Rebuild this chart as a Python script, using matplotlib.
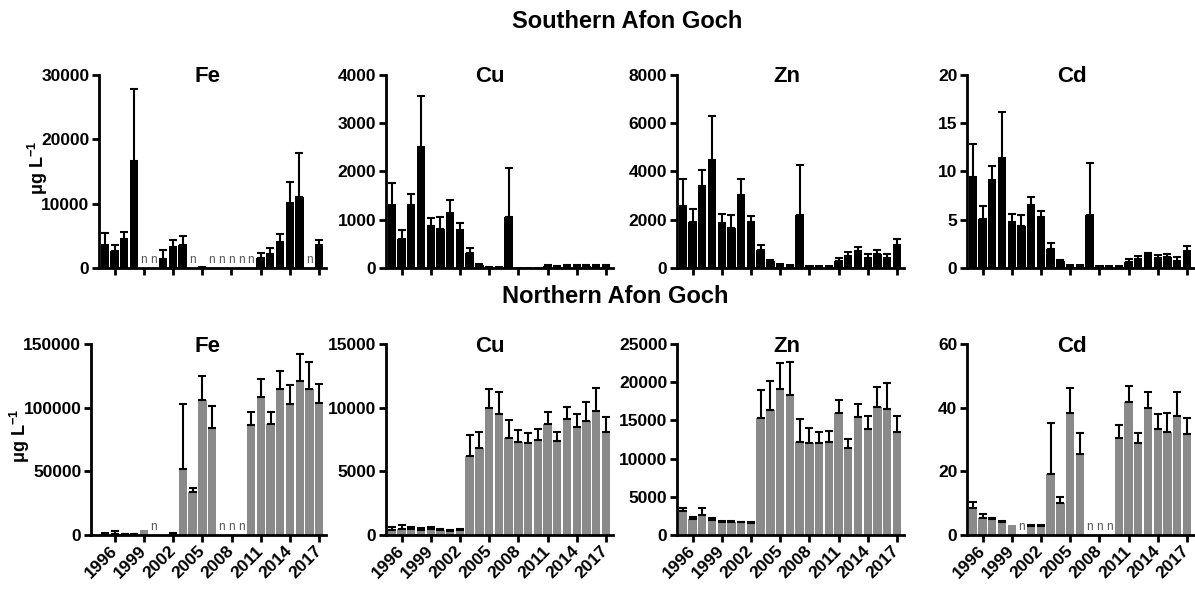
import matplotlib
matplotlib.use("Agg")
import matplotlib.pyplot as plt
import numpy as np

nan = np.nan

years = list(range(1995, 2018))
tick_years = [1996, 1999, 2002, 2005, 2008, 2011, 2014, 2017]
metals = ["Fe", "Cu", "Zn", "Cd"]

# Southern Afon Goch: mean and upper SD
fe_s = [3600, 2700, 4500, 16700, nan, nan, 1450, 3200, 3500, nan, 250, nan, nan,
        nan, nan, nan, 1500, 2200, 4000, 10100, 11100, nan, 3500]
fe_s_sd = [1800, 900, 1100, 11200, nan, nan, 1300, 1150, 1400, nan, 0, nan, nan,
           nan, nan, nan, 800, 900, 1300, 3300, 6700, nan, 900]
cu_s = [1300, 600, 1300, 2510, 870, 810, 1145, 790, 310, 60, 40, 40, 1050,
        20, 20, 20, 40, 30, 40, 50, 50, 40, 40]
cu_s_sd = [470, 190, 230, 1060, 160, 240, 255, 140, 110, 20, 0, 0, 1030,
           0, 0, 0, 15, 10, 15, 20, 20, 15, 15]
zn_s = [2580, 1900, 3390, 4470, 1880, 1670, 3010, 1900, 760, 290, 200, 180, 2180,
        140, 110, 120, 290, 510, 700, 430, 580, 400, 970]
zn_s_sd = [1100, 560, 680, 1810, 340, 510, 670, 240, 210, 55, 0, 0, 2080,
           0, 0, 0, 140, 140, 160, 140, 160, 170, 230]
cd_s = [9.4, 5.1, 9.1, 11.4, 4.8, 4.4, 6.5, 5.3, 2.0, 0.7, 0.45, 0.4, 5.5,
        0.3, 0.3, 0.3, 0.6, 0.9, 1.4, 1.0, 1.1, 0.75, 1.8]
cd_s_sd = [3.5, 1.3, 1.5, 4.8, 0.8, 1.1, 0.9, 0.6, 0.6, 0.1, 0, 0, 5.4,
           0, 0, 0, 0.3, 0.3, 0.2, 0.3, 0.3, 0.35, 0.5]

# Northern Afon Goch
fe_n = [800, 1000, 500, 700, 3800, nan, 200, 800, 51800, 33500, 106000, 84000, nan,
        nan, nan, 86600, 108000, 87000, 115000, 103000, 121000, 115000, 104000]
fe_n_sd = [500, 1800, 300, 300, 0, nan, 0, 800, 51000, 3600, 19000, 17000, nan,
           nan, nan, 10000, 14500, 9500, 14000, 15000, 21000, 21000, 14500]
cu_n = [400, 470, 470, 420, 470, 390, 340, 390, 6180, 6800, 9970, 9480, 7590,
        7300, 7230, 7490, 8740, 7360, 9110, 8510, 8950, 9750, 8100]
cu_n_sd = [250, 310, 180, 100, 180, 50, 50, 50, 1670, 1310, 1470, 1750, 1440,
           950, 810, 810, 890, 700, 940, 970, 1500, 1800, 1150]
zn_n = [3190, 2090, 2620, 1960, 1750, 1700, 1660, 1570, 15360, 16360, 19110, 18280, 12170,
        12090, 12000, 12220, 16010, 11340, 15400, 13920, 16710, 16490, 13480]
zn_n_sd = [390, 310, 870, 270, 80, 130, 90, 90, 3580, 3840, 3360, 4360, 2970,
           1870, 1530, 1440, 1660, 1180, 1790, 1700, 2620, 3410, 2100]
cd_n = [8.6, 5.2, 5.0, 4.0, 3.0, nan, 2.9, 2.9, 19.1, 10.2, 38.4, 25.3, nan,
        nan, nan, 30.6, 41.9, 28.8, 39.8, 33.2, 32.3, 37.4, 31.6]
cd_n_sd = [1.9, 1.3, 0.4, 0.3, 0, nan, 0.2, 0.2, 16.0, 1.8, 7.7, 6.6, nan,
           nan, nan, 4.0, 5.0, 3.1, 5.0, 4.7, 5.9, 7.5, 5.0]

south = [(fe_s, fe_s_sd), (cu_s, cu_s_sd), (zn_s, zn_s_sd), (cd_s, cd_s_sd)]
north = [(fe_n, fe_n_sd), (cu_n, cu_n_sd), (zn_n, zn_n_sd), (cd_n, cd_n_sd)]
south_ticks = [[0, 10000, 20000, 30000], [0, 1000, 2000, 3000, 4000],
               [0, 2000, 4000, 6000, 8000], [0, 5, 10, 15, 20]]
north_ticks = [[0, 50000, 100000, 150000], [0, 5000, 10000, 15000],
               [0, 5000, 10000, 15000, 20000, 25000], [0, 20, 40, 60]]

plt.rcParams["font.family"] = ["Liberation Sans", "DejaVu Sans"]
plt.rcParams["font.weight"] = "bold"
plt.rcParams["mathtext.fontset"] = "custom"
plt.rcParams["mathtext.rm"] = "Liberation Sans:bold"
plt.rcParams["mathtext.bf"] = "Liberation Sans:bold"
plt.rcParams["mathtext.it"] = "Liberation Sans:bold"

W, H = 1195, 590
fig = plt.figure(figsize=(W / 100, H / 100), dpi=100)

step = 9.73  # pixels per bar
x_hi = 22.75


def draw_panel(left_px, top_px, zero_px, x_lo, vals, sds, yticks, color, show_labels):
    width_px = (x_hi - x_lo) * step
    ax = fig.add_axes([left_px / W, 1 - zero_px / H, width_px / W, (zero_px - top_px) / H])
    x = np.arange(len(years))
    v = np.array(vals, dtype=float)
    s = np.array(sds, dtype=float)
    ok = ~np.isnan(v)
    ax.bar(x[ok], v[ok], width=0.86, color=color, zorder=2)
    e = ok & (s > 0)
    ax.errorbar(x[e], v[e], yerr=[np.zeros(e.sum()), s[e]], fmt="none", ecolor="black",
                elinewidth=1.5, capsize=3, capthick=1.5, zorder=3)
    for i in x[~ok]:
        ax.annotate("n", (i, 0), xytext=(0, 1.5), textcoords="offset points",
                    ha="center", va="bottom", fontsize=8.5, fontweight="normal",
                    color="#555555")
    ax.set_xlim(x_lo, x_hi)
    ax.set_ylim(0, yticks[-1])
    ax.set_yticks(yticks)
    ax.set_yticklabels([str(t) for t in yticks])
    ax.set_xticks([years.index(y) for y in tick_years])
    if show_labels:
        ax.set_xticklabels([str(y) for y in tick_years], rotation=45, ha="right",
                           va="center", rotation_mode="anchor")
    else:
        ax.set_xticklabels([])
    for side in ["top", "right"]:
        ax.spines[side].set_visible(False)
    for side in ["left", "bottom"]:
        ax.spines[side].set_linewidth(2)
    ax.tick_params(direction="out", length=5, width=2, labelsize=12.5, pad=2)
    ax.tick_params(axis="x", pad=5)
    for lab in ax.get_xticklabels() + ax.get_yticklabels():
        lab.set_fontweight("bold")
    return ax


lefts = [99, 386, 677, 967]
title_x = [208, 490, 787, 1072]

for j in range(4):
    draw_panel(lefts[j], 75, 268, -0.6, south[j][0], south[j][1], south_ticks[j],
               "black", False)
    fig.text(title_x[j] / W, 1 - 77 / H, metals[j], ha="center", va="center",
             fontsize=16, fontweight="bold")

bottom_lefts = [91, 386, 677, 967]
bottom_lo = [-1.45, -0.6, -0.6, -0.6]
for j in range(4):
    draw_panel(bottom_lefts[j], 344, 535, bottom_lo[j], north[j][0], north[j][1],
               north_ticks[j], "#8a8a8a", True)
    fig.text(title_x[j] / W, 1 - 347 / H, metals[j], ha="center", va="center",
             fontsize=16, fontweight="bold")

fig.text(627 / W, 1 - 22 / H, "Southern Afon Goch", ha="center", va="center",
         fontsize=17, fontweight="bold")
fig.text(615 / W, 1 - 297 / H, "Northern Afon Goch", ha="center", va="center",
         fontsize=17, fontweight="bold")
ylab = r"$\mathbf{\mu g\ L^{-1}}$"
fig.text(38 / W, 1 - 168 / H, ylab, ha="center", va="center", rotation=90, fontsize=13)
fig.text(20 / W, 1 - 436 / H, ylab, ha="center", va="center", rotation=90, fontsize=13)

fig.savefig("out.png", dpi=100)
